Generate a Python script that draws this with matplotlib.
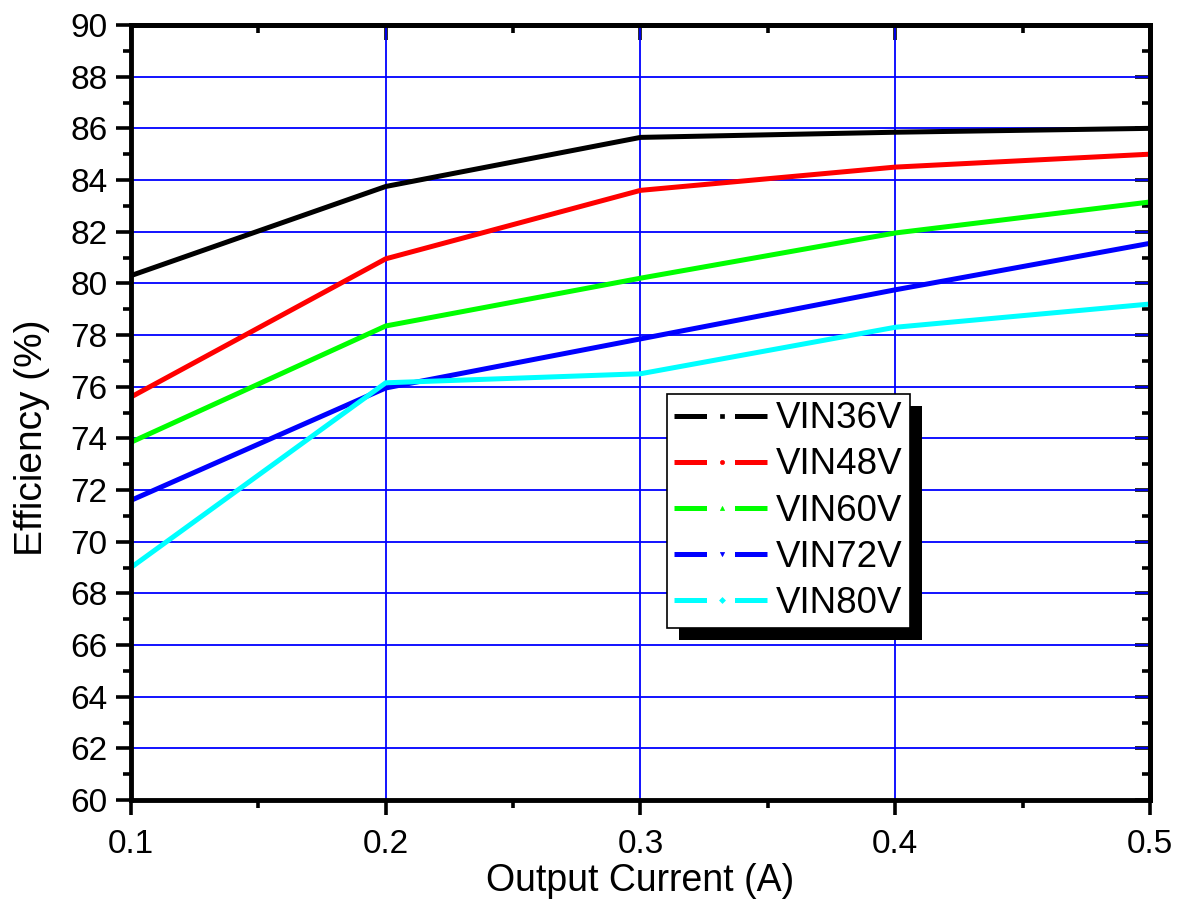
import matplotlib
matplotlib.use("Agg")
from matplotlib import pyplot as plt
from matplotlib.lines import Line2D
from matplotlib.patches import Rectangle
from matplotlib.ticker import MultipleLocator

plt.rcParams['font.family'] = ['Liberation Sans', 'DejaVu Sans']

# Output current (A)
current = [0.1, 0.2, 0.3, 0.4, 0.5]

# Efficiency (%) for each input voltage
eff_36 = [80.3, 83.75, 85.65, 85.85, 86.0]
eff_48 = [75.6, 80.95, 83.6, 84.5, 85.0]
eff_60 = [73.85, 78.35, 80.2, 81.95, 83.15]
eff_72 = [71.6, 75.95, 77.85, 79.75, 81.55]
eff_80 = [69.0, 76.15, 76.5, 78.3, 79.2]

labels = ['VIN36V', 'VIN48V', 'VIN60V', 'VIN72V', 'VIN80V']
series = [eff_36, eff_48, eff_60, eff_72, eff_80]
colors = ['#000000', '#ff0000', '#00ff00', '#0000ff', '#00ffff']
markers = ['s', 'o', '^', 'v', 'D']

fig = plt.figure(figsize=(11.79, 9.0), dpi=100)
ax = fig.add_axes([0.1111, 0.1111, 0.8643, 0.8611])

for y, c in zip(series, colors):
    ax.plot(current, y, color=c, linewidth=3.6, solid_joinstyle='miter', zorder=3)

ax.set_xlim(0.1, 0.5)
ax.set_ylim(60, 90)
ax.xaxis.set_major_locator(MultipleLocator(0.1))
ax.xaxis.set_minor_locator(MultipleLocator(0.05))
ax.yaxis.set_major_locator(MultipleLocator(2))
ax.yaxis.set_minor_locator(MultipleLocator(1))
ax.set_xticks([0.1, 0.2, 0.3, 0.4, 0.5])
ax.set_xticklabels(['0.1', '0.2', '0.3', '0.4', '0.5'])

ax.grid(True, which='major', color='#0000ff', linewidth=1.3)
ax.set_axisbelow(True)

for s in ax.spines.values():
    s.set_linewidth(3.5)
    s.set_zorder(4)

ax.tick_params(which='both', direction='out', width=2.6, labelsize=24,
               top=False, right=False)
ax.tick_params(which='major', length=11)
ax.tick_params(which='minor', length=6)
ax.tick_params(axis='x', pad=10)
ax.tick_params(axis='y', pad=6)

# inward ticks on the right and top sides
ax_r = ax.secondary_yaxis('right')
ax_r.yaxis.set_major_locator(MultipleLocator(2))
ax_r.yaxis.set_minor_locator(MultipleLocator(1))
ax_r.tick_params(which='both', direction='in', width=2.6, labelright=False)
ax_r.tick_params(which='major', length=11)
ax_r.tick_params(which='minor', length=6)
ax_r.spines['right'].set_linewidth(3.5)
ax_t = ax.secondary_xaxis('top')
ax_t.xaxis.set_major_locator(MultipleLocator(0.1))
ax_t.xaxis.set_minor_locator(MultipleLocator(0.05))
ax_t.tick_params(which='both', direction='in', width=2.6, labeltop=False)
ax_t.tick_params(which='major', length=11)
ax_t.tick_params(which='minor', length=6)
ax_t.spines['top'].set_linewidth(3.5)

ax.set_xlabel('Output Current (A)', fontsize=27, labelpad=2)
ax.set_ylabel('Efficiency (%)', fontsize=28)
ax.yaxis.set_label_coords(-0.079, 0.468)

handles = []
for c, m in zip(colors, markers):
    handles.append(Line2D([], [], color=c, linewidth=3.6,
                          linestyle=(0, (6.5, 5.6)), marker=m, markersize=3,
                          markeredgewidth=0.5))

leg = ax.legend(handles, labels, loc='lower left', bbox_to_anchor=(0.526, 0.222),
                borderaxespad=0, fontsize=26.5, frameon=True, fancybox=False,
                edgecolor='black', facecolor='white', framealpha=1,
                handlelength=2.6, handletextpad=0.15,
                labelspacing=0.3, borderpad=0.2, numpoints=1)
leg.get_frame().set_linewidth(1.2)
leg.set_zorder(6)

# solid black drop shadow behind legend
fig.canvas.draw()
bb = leg.get_window_extent().transformed(fig.transFigure.inverted())
dx = 12 / 1179
dy = 12 / 900
shadow = Rectangle((bb.x0 + dx, bb.y0 - dy), bb.width, bb.height,
                   transform=fig.transFigure, facecolor='black',
                   edgecolor='none', zorder=5.5)
ax.add_artist(shadow)
shadow.set_clip_on(False)

fig.savefig('out.png', dpi=100)
